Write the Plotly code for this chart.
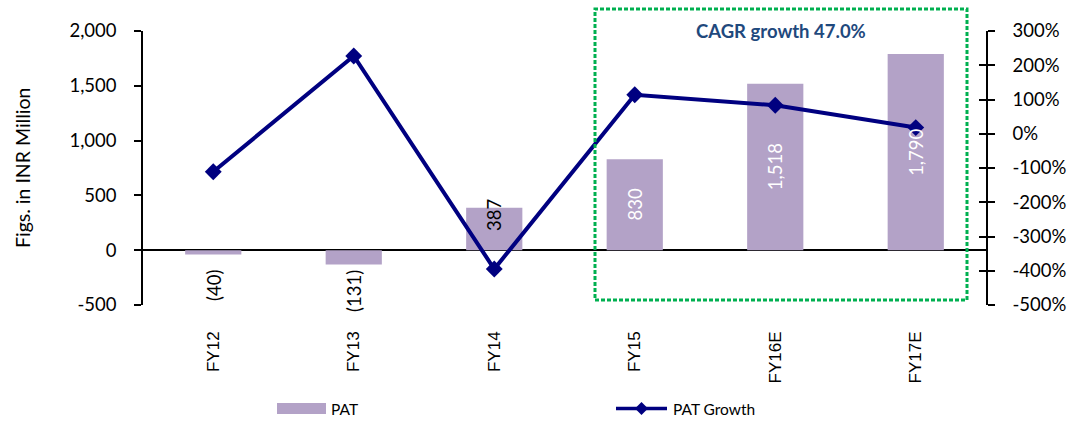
import plotly.graph_objects as go

categories = ["FY12", "FY13", "FY14", "FY15", "FY16E", "FY17E"]
pat = [-40, -131, 387, 830, 1518, 1790]
pat_growth_pct = [-111, 227, -395, 114, 83, 18]
pat_labels = ["(40)", "(131)", "387", "830", "1,518", "1,790"]
left_ticks = [-500, 0, 500, 1000, 1500, 2000]
left_tick_labels = ["-500", "0", "500", "1,000", "1,500", "2,000"]
right_ticks = [-5, -4, -3, -2, -1, 0, 1, 2, 3]
right_tick_labels = ["-500%", "-400%", "-300%", "-200%", "-100%", "0%", "100%", "200%", "300%"]

BAR = "#B3A2C7"
LINE = "#000080"
FONT = "Lato"

fig = go.Figure()
fig.add_trace(go.Bar(x=categories, y=pat, name="PAT", width=0.4,
                     marker=dict(color=BAR, line=dict(width=0)),
                     showlegend=False, hoverinfo="skip"))
fig.add_trace(go.Scatter(x=categories, y=[g / 100 for g in pat_growth_pct],
                         name="PAT Growth", yaxis="y2", mode="lines+markers",
                         line=dict(color=LINE, width=4),
                         marker=dict(symbol="diamond", size=13, color=LINE),
                         showlegend=False))

annotations = []
for c, v, t in zip(categories, pat, pat_labels):
    if v < 0:
        annotations.append(dict(x=c, y=0, text=t, showarrow=False, textangle=-90,
                                yanchor="top", yshift=-18,
                                font=dict(family=FONT, size=18.5, color="black")))
    elif v < 500:
        annotations.append(dict(x=c, y=v, text=t, showarrow=False, textangle=-90,
                                yanchor="middle", yshift=-7,
                                font=dict(family=FONT, size=18.5, color="black")))
    else:
        annotations.append(dict(x=c, y=v / 2, text=t, showarrow=False, textangle=-90,
                                yanchor="middle",
                                font=dict(family=FONT, size=18.5, color="white")))

# y-axis title
annotations.append(dict(xref="paper", yref="paper", x=0, y=0.5, xshift=-121,
                        text="Figs. in INR Million", showarrow=False, textangle=-90,
                        xanchor="center", yanchor="middle",
                        font=dict(family=FONT, size=19.5, color="black")))
# CAGR text
annotations.append(dict(xref="paper", yref="paper", x=0.757, y=1.0,
                        text="<b>CAGR growth 47.0%</b>", showarrow=False,
                        xanchor="center", yanchor="middle",
                        font=dict(family=FONT, size=18.5, color="#1F497D")))
# legend texts
annotations.append(dict(xref="paper", yref="paper", x=(329 - 143) / 843, y=(305 - 408.5) / 274,
                        text="PAT", showarrow=False, xanchor="left", yanchor="middle",
                        font=dict(family=FONT, size=15.5, color="black")))
annotations.append(dict(xref="paper", yref="paper", x=(671 - 143) / 843, y=(305 - 408.5) / 274,
                        text="PAT Growth", showarrow=False, xanchor="left", yanchor="middle",
                        font=dict(family=FONT, size=15.5, color="black")))

def px(xp):
    return (xp - 143) / 843

def py(yp):
    return (305 - yp) / 274

shapes = [
    dict(type="rect", xref="paper", yref="paper", x0=px(595), x1=px(967), y0=py(300), y1=py(9),
         line=dict(color="#00B050", width=3, dash="4px,2px"), fillcolor="rgba(0,0,0,0)", layer="above"),
    dict(type="rect", xref="paper", yref="paper", x0=px(277), x1=px(326), y0=py(414), y1=py(403),
         line=dict(width=0), fillcolor=BAR),
    dict(type="line", xref="paper", yref="paper", x0=px(616), x1=px(667), y0=py(408.5), y1=py(408.5),
         line=dict(color=LINE, width=3.5)),
    dict(type="path", xref="paper", yref="paper",
         path=f"M {px(635)},{py(408.5)} L {px(641.5)},{py(402)} L {px(648)},{py(408.5)} L {px(641.5)},{py(415)} Z",
         line=dict(width=0), fillcolor=LINE),
]

fig.update_layout(
    width=1080, height=421,
    margin=dict(l=143, r=94, t=31, b=116, autoexpand=False),
    paper_bgcolor="white", plot_bgcolor="white",
    font=dict(family=FONT, size=18, color="black"),
    showlegend=False,
    bargap=0.6,
    xaxis=dict(type="category", tickangle=-90, showgrid=False, showline=False,
               ticks="", ticklabelstandoff=22,
               tickfont=dict(family="Liberation Sans", size=17, color="black")),
    yaxis=dict(range=[-500, 2000], tickvals=left_ticks, ticktext=left_tick_labels, showgrid=False,
               showline=True, linecolor="black", linewidth=1.5,
               ticks="outside", ticklen=7, tickwidth=1.5, tickcolor="black",
               zeroline=True, zerolinecolor="black", zerolinewidth=2,
               ticklabelstandoff=14, tickfont=dict(family=FONT, size=18.5)),
    yaxis2=dict(range=[-5, 3], tickvals=right_ticks, ticktext=right_tick_labels, overlaying="y",
                side="right", anchor="x", showgrid=False, zeroline=False,
                showline=True, linecolor="black", linewidth=1.5,
                ticks="outside", ticklen=7, tickwidth=1.5, tickcolor="black",
                ticklabelstandoff=14, tickfont=dict(family=FONT, size=18.5)),
    yaxis3=dict(range=[-5, 3], tickvals=right_ticks, overlaying="y", side="right", anchor="x",
                showgrid=False, zeroline=False, showline=False, showticklabels=False,
                ticks="inside", ticklen=7, tickwidth=1.5, tickcolor="black"),
    annotations=annotations,
    shapes=shapes,
)

# helper trace so the inner tick marks of the right axis are drawn
fig.add_trace(go.Scatter(x=[categories[0]], y=[None], yaxis="y3", showlegend=False, hoverinfo="skip"))

fig.write_html("out.html")
